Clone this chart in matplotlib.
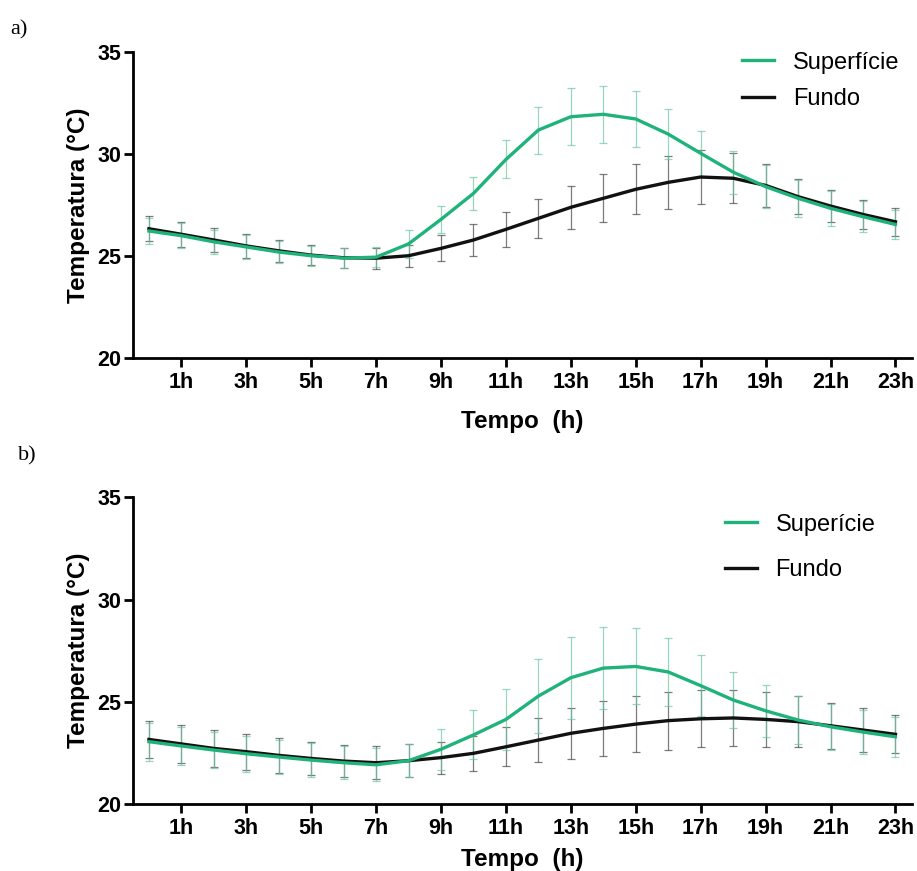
import matplotlib
matplotlib.use('Agg')
import matplotlib.pyplot as plt
import numpy as np

plt.rcParams['font.family'] = ['Liberation Sans', 'DejaVu Sans']

# hourly means and standard deviations
horas = list(range(24))
xticks = list(range(1, 24, 2))
xlabels = ['%dh' % h for h in xticks]

sup_a = [26.23, 26.0, 25.7, 25.45, 25.2, 25.02, 24.9, 24.95, 25.6, 26.8, 28.07, 29.73,
         31.17, 31.82, 31.94, 31.71, 30.97, 30.03, 29.11, 28.4, 27.83, 27.34, 26.93, 26.55]
fundo_a = [26.34, 26.07, 25.79, 25.5, 25.26, 25.05, 24.92, 24.9, 25.02, 25.38, 25.79, 26.31,
           26.85, 27.39, 27.83, 28.27, 28.61, 28.87, 28.81, 28.46, 27.91, 27.45, 27.04, 26.68]
sup_a_err = [0.65, 0.62, 0.6, 0.58, 0.55, 0.5, 0.49, 0.5, 0.68, 0.67, 0.79, 0.93,
             1.15, 1.4, 1.4, 1.35, 1.22, 1.09, 1.05, 1.05, 0.9, 0.85, 0.75, 0.7]
fundo_a_err = [0.6, 0.62, 0.6, 0.58, 0.55, 0.5, 0.49, 0.52, 0.54, 0.64, 0.76, 0.86,
               0.95, 1.05, 1.17, 1.22, 1.3, 1.32, 1.23, 1.05, 0.85, 0.8, 0.72, 0.68]

sup_b = [23.05, 22.84, 22.64, 22.46, 22.3, 22.15, 22.02, 21.92, 22.12, 22.68, 23.38, 24.14,
         25.28, 26.18, 26.65, 26.73, 26.46, 25.79, 25.09, 24.56, 24.11, 23.78, 23.52, 23.29]
fundo_b = [23.16, 22.94, 22.72, 22.56, 22.38, 22.23, 22.1, 22.02, 22.12, 22.27, 22.48, 22.8,
           23.13, 23.46, 23.7, 23.91, 24.08, 24.17, 24.21, 24.14, 24.03, 23.83, 23.62, 23.41]
sup_b_err = [0.93, 0.93, 0.9, 0.88, 0.85, 0.84, 0.8, 0.8, 0.82, 1.0, 1.2, 1.5,
             1.8, 2.0, 2.02, 1.86, 1.65, 1.48, 1.35, 1.28, 1.19, 1.12, 1.08, 0.99]
fundo_b_err = [0.92, 0.92, 0.9, 0.88, 0.85, 0.82, 0.8, 0.8, 0.82, 0.78, 0.86, 0.96,
               1.08, 1.24, 1.34, 1.38, 1.42, 1.4, 1.37, 1.34, 1.24, 1.13, 1.07, 0.93]

verde = '#1fb37b'
preto = '#111111'
fs_tick = 15.5
fs_lab = 17.5
fs_leg = 17


def painel(ax, sup, fundo, sup_err, fundo_err, nome_sup, leg_anchor, leg_space, xpad):
    # error bars first, thin and faded
    ax.errorbar(horas, fundo, yerr=fundo_err, fmt='none', ecolor='#444444', alpha=0.7,
                elinewidth=0.9, capsize=2.6, capthick=0.9, zorder=1)
    ax.errorbar(horas, sup, yerr=sup_err, fmt='none', ecolor='#6cc7a2', alpha=0.7,
                elinewidth=0.9, capsize=2.6, capthick=0.9, zorder=1)
    ax.plot(horas, sup, '-', color=verde, linewidth=2.4, label=nome_sup, zorder=3)
    ax.plot(horas, fundo, '-', color=preto, linewidth=2.4, label='Fundo', zorder=2)

    ax.set_xlim(-0.5, 23.5)
    ax.set_ylim(20, 35)
    ax.set_yticks([20, 25, 30, 35])
    ax.set_xticks(xticks)
    ax.set_xticklabels(xlabels)
    for s in ['top', 'right']:
        ax.spines[s].set_visible(False)
    for s in ['left', 'bottom']:
        ax.spines[s].set_linewidth(2.0)
    ax.tick_params(axis='both', direction='out', length=6.2, width=2.0,
                   labelsize=fs_tick)
    ax.tick_params(axis='y', pad=2)
    ax.tick_params(axis='x', pad=4)
    for t in ax.get_xticklabels() + ax.get_yticklabels():
        t.set_fontweight('bold')
    ax.set_ylabel('Temperatura (°C)', fontsize=fs_lab, fontweight='bold', labelpad=5)
    ax.set_xlabel('Tempo  (h)', fontsize=fs_lab, fontweight='bold', labelpad=xpad)

    h, l = ax.get_legend_handles_labels()
    ax.legend(h, l, loc='upper left', bbox_to_anchor=leg_anchor, frameon=False,
              fontsize=fs_leg, handlelength=1.35, handletextpad=0.8,
              labelspacing=leg_space, borderpad=0, borderaxespad=0)


fig = plt.figure(figsize=(9.17, 8.71), dpi=100)
ax1 = fig.add_axes([0.1447, 0.5886, 0.8495, 0.352])
ax2 = fig.add_axes([0.1447, 0.0769, 0.8495, 0.352])

painel(ax1, sup_a, fundo_a, sup_a_err, fundo_a_err, 'Superfície', (0.782, 1.0), 0.6, 12)
painel(ax2, sup_b, fundo_b, sup_b_err, fundo_b_err, 'Superície', (0.760, 0.947), 1.0, 6)

fig.text(10 / 917, 1 - 30 / 871, 'a)', family='Liberation Serif', fontsize=16,
         va='center', ha='left')
fig.text(18 / 917, 1 - 456 / 871, 'b)', family='Liberation Serif', fontsize=16,
         va='center', ha='left')

fig.savefig('out.png', dpi=100)
